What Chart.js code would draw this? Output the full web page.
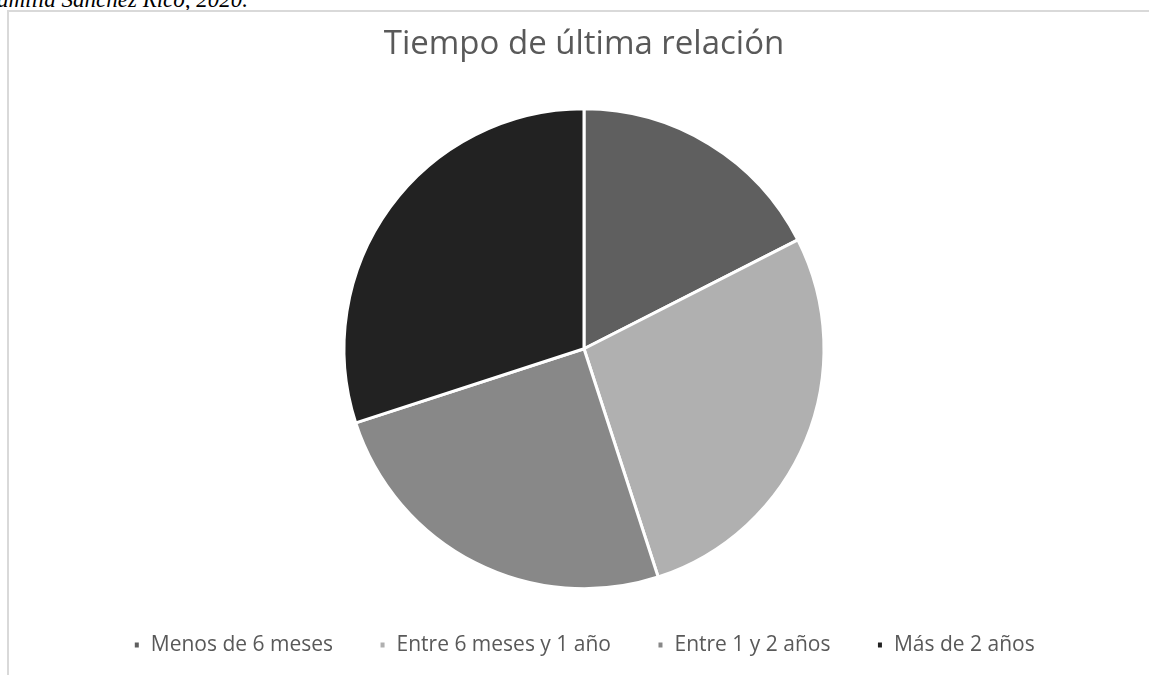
<!DOCTYPE html>
<html>
<head>
<meta charset="utf-8">
<script src="https://cdn.jsdelivr.net/npm/chart.js@4.4.0/dist/chart.umd.min.js"></script>
<style>
  html, body { margin: 0; padding: 0; background: #fff; width: 1149px; height: 675px; overflow: hidden; }
  #caption {
    position: absolute; left: -3px; top: -13px; line-height: 24px;
    font: italic 23px "Liberation Serif", "DejaVu Serif", serif; color: #000;
    white-space: nowrap;
  }
  #frame {
    position: absolute; left: 7px; top: 10px; width: 1142px; height: 665px;
    border-top: 2px solid #d9d9d9; border-left: 2px solid #d9d9d9;
    box-sizing: border-box;
  }
  #chart { position: absolute; left: 9px; top: 11px; }
</style>
</head>
<body>
<div id="caption">amilia Sanchez Rico, 2020.</div>
<div id="frame"></div>
<canvas id="chart" width="1140" height="664"></canvas>
<script>
// chart data
const chartTitle = 'Tiempo de última relación';
const categories = ['Menos de 6 meses', 'Entre 6 meses y 1 año', 'Entre 1 y 2 años', 'Más de 2 años'];
const counts = [7, 11, 10, 12];
const sliceColors = ['#5f5f5f', '#b0b0b0', '#888888', '#222222'];

const ctx = document.getElementById('chart').getContext('2d');

new Chart(ctx, {
  type: 'pie',
  data: {
    labels: categories,
    datasets: [{
      data: counts,
      backgroundColor: sliceColors,
      borderColor: '#ffffff',
      borderWidth: 3,
      radius: 240
    }]
  },
  options: {
    responsive: false,
    animation: false,
    layout: { padding: { left: 10, right: 0, top: 0, bottom: 9.5 } },
    plugins: {
      title: {
        display: true,
        text: chartTitle,
        color: '#595959',
        font: { size: 33, family: "'Open Sans', Lato, sans-serif", weight: 'normal' },
        padding: { top: 14, bottom: 44.4 }
      },
      legend: {
        position: 'bottom',
        labels: {
          color: '#595959',
          font: { size: 21, family: "'Open Sans', Lato, sans-serif" },
          boxWidth: 7,
          boxHeight: 8,
          padding: 46
        }
      },
      tooltip: { enabled: false }
    }
  }
});
</script>
</body>
</html>
